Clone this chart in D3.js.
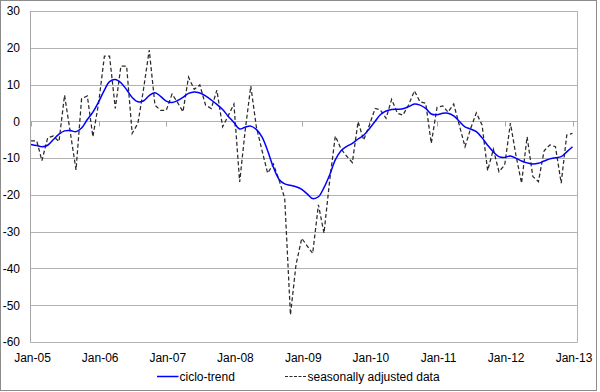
<!DOCTYPE html>
<html>
<head>
<meta charset="utf-8">
<script src="https://cdn.jsdelivr.net/npm/d3@7"></script>
<style>
  html, body { margin: 0; padding: 0; background: #fff; }
  svg { display: block; font-family: "Liberation Sans", Arial, sans-serif; }
</style>
</head>
<body>
<svg id="chart" width="600" height="392"></svg>
<script>
// ---- data ----
const startMonth = new Date(2005, 0, 1);
const months = d3.timeMonth.range(startMonth, new Date(2013, 1, 1)); // Jan-05 .. Jan-13 (97 months)

const cicloTrend = [
  -6.3, -6.6, -6.9, -6.5, -5, -3.5, -2.6, -2.5, -2.8, -1.8, 0.5, 2.5,
  5.3, 8.5, 10.8, 11.4, 10.5, 8.6, 6.5, 5.3, 5.6, 7, 7.8, 6.8,
  5.5, 5.1, 5.6, 6.5, 7.6, 8, 7.7, 6.9, 5.8, 4.6, 3.2, 1.4,
  -0.3, -2.1, -1.6, -1.3, -2.2, -4.3, -8, -12.5, -15.8, -17, -17.4, -17.8,
  -18.5, -19.8, -21, -20.5, -18, -14.5, -10.5, -8, -6.8, -6, -4.8, -3.8,
  -2, 0, 1.8, 2.8, 3.2, 3.3, 3.4, 4, 4.7, 4.4, 3.5, 2,
  1.8, 2.2, 2.2, 1.5, 0, -1.5, -2.1, -2.8, -4.5, -6.5, -8.3, -9.6,
  -9.8, -9.4, -10, -10.8, -11.3, -11.6, -11.4, -10.8, -10.2, -9.9, -9.6, -8.3,
  -6.9
];

const seasonallyAdjusted = [
  -5.3, -5.3, -10.7, -4.5, -4, -5.5, 7.1, -3, -13.2, 6.2, 6.9, -4.2,
  5, 17.7, 17.7, 3.5, 15, 15, -3.3, -0.5, 9, 19.4, 4.4, 3,
  3, 7.4, 5.3, 2.6, 12, 8.7, 9.9, 4.4, 3.5, 8.5, -1.5, 1.5,
  4.7, -16.5, -2.8, 9.6, -1.5, -8, -14.1, -11.6, -16, -20.9, -52.6, -39,
  -31.8, -34, -35.9, -22.7, -30.4, -16, -4, -7.5, -9.5, -11.2, -0.1, -5.1,
  -1, 3.5, 3.1, 0.8, 6, 2.2, 1.7, 4.5, 8.3, 5.3, 4.9, -6,
  3.8, 4.2, 2.5, 4.7, -1, -6.9, -2, 2.3, -1, -13.4, -7.6, -13.7,
  -11.9, -0.5, -9, -16.8, -4.2, -15, -16.4, -8, -6.4, -6.9, -16.8, -3.7,
  -3.3
];

const xTickLabels = ["Jan-05", "Jan-06", "Jan-07", "Jan-08", "Jan-09", "Jan-10", "Jan-11", "Jan-12", "Jan-13"];
const yTicks = [30, 20, 10, 0, -10, -20, -30, -40, -50, -60];
const seriesNames = ["ciclo-trend", "seasonally adjusted data"];

// ---- drawing ----
const svg = d3.select("#chart");
const plotLeft = 30.5, plotRight = 577.5, plotTop = 11, plotBottom = 342;

// outer border
svg.append("rect").attr("x", 0.5).attr("y", 0.5).attr("width", 596).attr("height", 390)
  .attr("fill", "#fff").attr("stroke", "#8c8c8c").attr("stroke-width", 1);

const x = d3.scaleTime().domain([new Date(2005, 0, 1), new Date(2013, 0, 1)]).range([31, 572.5]);
const y = d3.scaleLinear().domain([-60, 30]).range([plotBottom, plotTop]);

// gridlines
svg.append("g").selectAll("line").data(yTicks).join("line")
  .attr("x1", plotLeft).attr("x2", plotRight)
  .attr("y1", d => Math.round(y(d)) + 0.5).attr("y2", d => Math.round(y(d)) + 0.5)
  .attr("stroke", "#b3b3b3").attr("stroke-width", 1);

// plot borders (left axis + right edge)
svg.append("line").attr("x1", plotLeft).attr("x2", plotLeft).attr("y1", plotTop).attr("y2", plotBottom + 0.5)
  .attr("stroke", "#a6a6a6");
svg.append("line").attr("x1", plotRight).attr("x2", plotRight).attr("y1", plotTop).attr("y2", plotBottom + 0.5)
  .attr("stroke", "#b3b3b3");

// y labels
svg.append("g").selectAll("text").data(yTicks).join("text")
  .attr("x", 20).attr("y", d => y(d)).attr("dy", "0.36em")
  .attr("text-anchor", "end").attr("font-size", 12).attr("fill", "#000")
  .text(d => d);

// x ticks on zero line
const yearTicks = xTickLabels.map((_, i) => new Date(2005 + i, 0, 1));
const y0 = Math.round(y(0)) + 0.5;
svg.append("g").selectAll("line").data(yearTicks).join("line")
  .attr("x1", d => Math.round(x(d)) + 0.5).attr("x2", d => Math.round(x(d)) + 0.5)
  .attr("y1", y0).attr("y2", y0 + 5)
  .attr("stroke", "#a6a6a6");

// x labels
svg.append("g").selectAll("text").data(xTickLabels).join("text")
  .attr("x", (d, i) => x(yearTicks[i]) + 1.5).attr("y", 361.5)
  .attr("text-anchor", "middle").attr("font-size", 12).attr("fill", "#000")
  .text(d => d);

// lines
const dashedLine = d3.line().x((d, i) => x(months[i])).y(d => y(d)).curve(d3.curveLinear);
const smoothLine = d3.line().x((d, i) => x(months[i])).y(d => y(d)).curve(d3.curveCatmullRom.alpha(0.5));

svg.append("path").datum(seasonallyAdjusted).attr("d", dashedLine)
  .attr("fill", "none").attr("stroke", "#2a2a2a").attr("stroke-width", 1.25)
  .attr("stroke-dasharray", "4,2.5");

svg.append("path").datum(cicloTrend).attr("d", smoothLine)
  .attr("fill", "none").attr("stroke", "#0000ff").attr("stroke-width", 1.5);

// legend
const lg = svg.append("g");
lg.append("line").attr("x1", 157).attr("x2", 178.5).attr("y1", 376.5).attr("y2", 376.5)
  .attr("stroke", "#0000ff").attr("stroke-width", 1.5);
lg.append("text").attr("x", 179.5).attr("y", 381).attr("font-size", 12).attr("fill", "#000").text(seriesNames[0]);
lg.append("line").attr("x1", 285).attr("x2", 307).attr("y1", 376.5).attr("y2", 376.5)
  .attr("stroke", "#2a2a2a").attr("stroke-width", 1.1).attr("stroke-dasharray", "3,1.5");
lg.append("text").attr("x", 307.5).attr("y", 381).attr("font-size", 12).attr("fill", "#000").text(seriesNames[1]);
</script>
</body>
</html>
